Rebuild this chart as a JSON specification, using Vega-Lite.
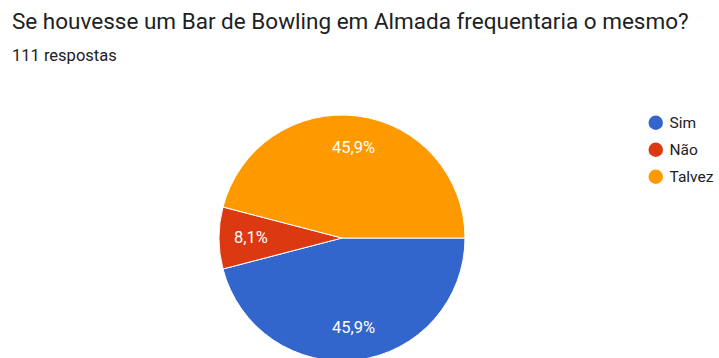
{
  "$schema": "https://vega.github.io/schema/vega-lite/v6.json",
  "width": 684,
  "height": 246,
  "autosize": "none",
  "padding": {"left": 0, "top": 115, "right": 35, "bottom": -3},
  "background": "white",
  "title": {
    "text": "Se houvesse um Bar de Bowling em Almada frequentaria o mesmo?",
    "subtitle": "111 respostas",
    "anchor": "start",
    "frame": "group",
    "dx": 12,
    "offset": 49,
    "font": "Roboto",
    "fontSize": 22.5,
    "fontWeight": "normal",
    "color": "#202124",
    "subtitleFont": "Roboto",
    "subtitleFontSize": 16.5,
    "subtitleColor": "#202124",
    "subtitlePadding": 14
  },
  "data": {
    "values": [
      {"resposta": "Sim", "count": 51, "ordem": 1, "label": "45,9%"},
      {"resposta": "Não", "count": 9, "ordem": 2, "label": "8,1%"},
      {"resposta": "Talvez", "count": 51, "ordem": 3, "label": "45,9%"}
    ]
  },
  "encoding": {
    "theta": {"field": "count", "type": "quantitative", "stack": true, "scale": {"range": [1.5707963, 7.8539816]}},
    "order": {"field": "ordem", "type": "quantitative"}
  },
  "layer": [
    {
      "mark": {"type": "arc", "stroke": "white", "strokeWidth": 1},
      "encoding": {
        "color": {
          "field": "resposta",
          "type": "nominal",
          "scale": {"domain": ["Sim", "Não", "Talvez"], "range": ["#3366cc", "#dc3912", "#ff9900"]},
          "legend": {
            "title": null,
            "orient": "none",
            "legendX": 648,
            "legendY": 0,
            "symbolType": "circle",
            "symbolSize": 210,
            "symbolStrokeWidth": 0,
            "symbolOpacity": 1,
            "labelFont": "Roboto",
            "labelFontSize": 15.5,
            "labelColor": "#202124",
            "rowPadding": 10,
            "labelOffset": 6
          }
        }
      }
    },
    {
      "mark": {"type": "text", "radius": 91, "color": "white", "font": "Roboto", "fontSize": 16.5},
      "encoding": {
        "text": {"field": "label", "type": "nominal"}
      }
    }
  ]
}
